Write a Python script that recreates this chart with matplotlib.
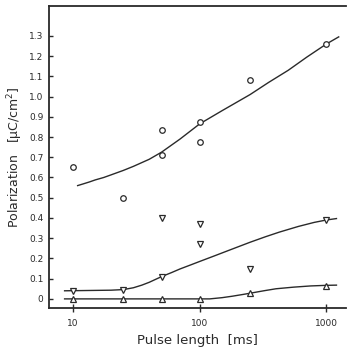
import numpy as np
import matplotlib
matplotlib.use('Agg')
import matplotlib.pyplot as plt

# measured points
circ_x = [10, 25, 50, 50, 100, 100, 250, 1000]
circ_y = [0.65, 0.50, 0.835, 0.71, 0.875, 0.775, 1.08, 1.26]
dtri_x = [10, 25, 50, 50, 100, 100, 250, 1000]
dtri_y = [0.04, 0.045, 0.11, 0.40, 0.37, 0.27, 0.148, 0.39]
utri_x = [10, 25, 50, 100, 250, 1000]
utri_y = [0.0, 0.0, 0.0, 0.0, 0.028, 0.066]

# fitted curves
circ_fit_x = [10.9, 12, 13.5, 15, 17.5, 20, 25, 30, 40, 50, 70, 100, 150,
              250, 350, 500, 700, 1000, 1250]
circ_fit_y = [0.56, 0.568, 0.578, 0.588, 0.60, 0.613, 0.635, 0.655, 0.69,
              0.725, 0.79, 0.865, 0.93, 1.01, 1.07, 1.13, 1.195, 1.26, 1.295]
dtri_fit_x = [8.6, 20, 25, 30, 35, 40, 50, 60, 70, 85, 100, 130, 170, 250,
              330, 425, 600, 800, 1000, 1200]
dtri_fit_y = [0.04, 0.043, 0.046, 0.055, 0.068, 0.082, 0.11, 0.13, 0.148,
              0.168, 0.185, 0.212, 0.24, 0.28, 0.307, 0.33, 0.358, 0.378,
              0.39, 0.397]
utri_fit_x = [8.6, 120, 150, 180, 220, 250, 320, 400, 550, 750, 1000, 1200]
utri_fit_y = [0.0, 0.0, 0.006, 0.013, 0.022, 0.028, 0.04, 0.05, 0.058,
              0.064, 0.067, 0.068]

yticks = np.arange(0, 14) / 10.0
ytick_labels = ['0'] + ['%.1f' % v for v in yticks[1:]]

ink = '#2a2a2a'

fig = plt.figure(figsize=(3.47, 3.49), dpi=100)
ax = fig.add_axes([0.141, 0.1175, 0.857, 0.8655])

ax.plot(circ_fit_x, circ_fit_y, '-', color=ink, lw=1.0, zorder=1)
ax.plot(dtri_fit_x, dtri_fit_y, '-', color=ink, lw=1.0, zorder=1)
ax.plot(utri_fit_x, utri_fit_y, '-', color=ink, lw=1.0, zorder=1)

mk = dict(linestyle='none', markersize=4, markerfacecolor='white',
          markeredgecolor=ink, markeredgewidth=0.9, zorder=2)
ax.plot(circ_x, circ_y, marker='o', **mk)
ax.plot(dtri_x, dtri_y, marker='v', **mk)
ax.plot(utri_x, utri_y, marker='^', **mk)

ax.set_xscale('log')
ax.set_xlim(6.47, 1435)
ax.set_ylim(-0.045, 1.448)

ax.set_xticks([10, 100, 1000])
ax.set_xticklabels(['10', '100', '1000'])
ax.xaxis.set_minor_locator(matplotlib.ticker.NullLocator())
ax.set_yticks(yticks)
ax.set_yticklabels(ytick_labels)

ax.tick_params(axis='x', direction='inout', length=6, width=1.0, pad=5,
               labelsize=6.5, colors=ink)
ax.tick_params(axis='y', direction='in', length=3, width=1.0, pad=4,
               labelsize=6.5, colors=ink)

for s in ['left', 'bottom', 'top']:
    ax.spines[s].set_linewidth(1.3)
    ax.spines[s].set_color(ink)
ax.spines['right'].set_visible(False)

ax.set_xlabel('Pulse length  [ms]', fontsize=9.5, color=ink, labelpad=4)
ax.set_ylabel('Polarization   [\u03bcC/cm$^2$]', fontsize=9, color=ink,
              va='center')
ax.yaxis.set_label_coords(-0.112, 0.5)

fig.savefig('out.png', dpi=100)
